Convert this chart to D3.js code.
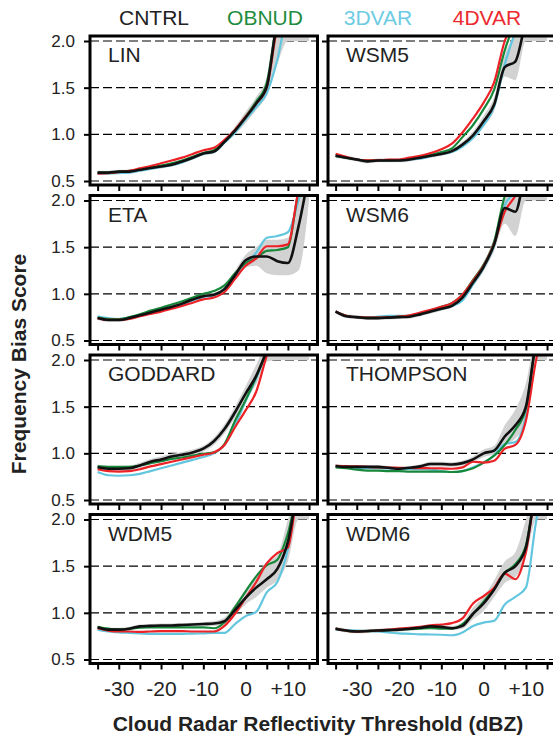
<!DOCTYPE html>
<html>
<head>
<meta charset="utf-8">
<script src="https://cdn.jsdelivr.net/npm/d3@7"></script>
<style>
  body { margin: 0; background: #fff; }
  text { font-family: "Liberation Sans", Arial, Helvetica, sans-serif; fill: #222; }
</style>
</head>
<body>
<div id="chart"></div>
<script>
var svgWidth = 553;
var svgHeight = 740;

// reflectivity thresholds (dBZ)
var thresholds = [-35, -32.5, -30, -27.5, -25, -22.5, -20, -17.5, -15, -12.5, -10, -7.5, -5, -2.5, 0, 2.5, 5, 7.5, 10, 12.5, 15];
var schemes = ["LIN", "WSM5", "ETA", "WSM6", "GODDARD", "THOMPSON", "WDM5", "WDM6"];
var experiments = ["CNTRL", "OBNUD", "3DVAR", "4DVAR"];
var xTickValues = [-35, -30, -25, -20, -15, -10, -5, 0, 5, 10, 15];
var xTickLabels = {"-30": "-30", "-20": "-20", "-10": "-10", "0": "0", "10": "+10"};
var yTickValues = [0.5, 1.0, 1.5, 2.0];

// LIN
var linCntrl = [.59,.59,.60,.60,.62,.64,.655,.675,.71,.75,.795,.815,.92,1.04,1.18,1.33,1.51,2.2,2.4,2.4,2.4];
var linObnud = [.59,.59,.60,.61,.625,.645,.665,.69,.72,.76,.80,.83,.92,1.04,1.19,1.35,1.55,2.2,2.4,2.4,2.4];
var lin3dvar = [.58,.58,.585,.59,.61,.63,.65,.67,.70,.745,.79,.81,.91,1.02,1.16,1.29,1.44,1.8,2.3,2.4,2.4];
var lin4dvar = [.58,.585,.595,.61,.635,.66,.69,.72,.75,.79,.83,.855,.94,1.05,1.19,1.33,1.50,2.15,2.4,2.4,2.4];
var linLo = [.57,.57,.58,.58,.60,.62,.635,.655,.69,.73,.775,.795,.90,1.0,1.12,1.26,1.42,1.75,2.0,2.0,2.0];
var linHi = [.61,.61,.62,.62,.64,.66,.675,.695,.73,.77,.815,.835,.94,1.08,1.24,1.40,1.62,2.3,2.4,2.4,2.4];

// WSM5
var wsm5Cntrl = [.77,.75,.73,.71,.72,.72,.72,.73,.75,.77,.79,.82,.89,.99,1.14,1.32,1.72,1.78,2.2,2.4,2.4];
var wsm5Obnud = [.77,.75,.73,.72,.72,.72,.725,.74,.76,.78,.81,.85,.97,1.1,1.27,1.48,1.9,2.2,2.4,2.4,2.4];
var wsm53dvar = [.77,.75,.73,.71,.72,.72,.72,.73,.74,.765,.79,.81,.87,.96,1.1,1.30,1.75,2.1,2.4,2.4,2.4];
var wsm54dvar = [.79,.76,.73,.72,.72,.73,.73,.75,.77,.80,.84,.90,1.02,1.17,1.34,1.56,2.0,2.2,2.4,2.4,2.4];
var wsm5Lo = [.75,.73,.71,.69,.70,.70,.70,.71,.73,.75,.77,.80,.86,.95,1.08,1.25,1.62,1.58,2.0,2.0,2.0];
var wsm5Hi = [.79,.77,.75,.73,.74,.74,.74,.75,.77,.79,.81,.84,.92,1.03,1.2,1.4,1.85,2.1,2.4,2.4,2.4];

// ETA
var etaCntrl = [.74,.72,.72,.74,.77,.80,.83,.86,.895,.94,.975,.99,1.05,1.2,1.36,1.40,1.40,1.35,1.33,1.72,2.3];
var etaObnud = [.745,.73,.73,.75,.78,.82,.85,.885,.92,.96,1.0,1.03,1.09,1.22,1.33,1.38,1.46,1.47,1.50,2.1,2.4];
var eta3dvar = [.76,.74,.73,.745,.775,.80,.83,.86,.89,.93,.965,.985,1.05,1.18,1.32,1.44,1.60,1.62,1.66,2.0,2.4];
var eta4dvar = [.74,.72,.72,.73,.76,.785,.81,.84,.87,.905,.94,.96,1.02,1.16,1.30,1.38,1.51,1.51,1.53,2.1,2.4];
var etaLo = [.72,.70,.70,.72,.75,.78,.81,.84,.875,.92,.955,.97,1.02,1.15,1.28,1.30,1.22,1.20,1.20,1.25,2.0];
var etaHi = [.76,.74,.74,.76,.79,.82,.85,.88,.915,.96,.995,1.01,1.08,1.25,1.42,1.50,1.58,1.58,1.60,2.1,2.4];

// WSM6
var wsm6Cntrl = [.81,.76,.75,.74,.74,.745,.75,.755,.78,.81,.84,.87,.96,1.12,1.29,1.53,1.92,1.88,2.3,2.4,2.4];
var wsm6Obnud = [.81,.765,.75,.745,.745,.75,.755,.765,.79,.82,.86,.90,.99,1.15,1.31,1.56,2.05,2.3,2.4,2.4,2.4];
var wsm63dvar = [.81,.765,.75,.745,.755,.765,.765,.765,.785,.81,.84,.87,.93,1.10,1.28,1.52,1.95,2.1,2.4,2.4,2.4];
var wsm64dvar = [.81,.765,.75,.745,.745,.75,.755,.77,.80,.83,.86,.90,.99,1.14,1.30,1.54,1.88,2.05,2.3,2.4,2.4];
var wsm6Lo = [.79,.74,.73,.72,.72,.725,.73,.735,.76,.79,.82,.85,.93,1.08,1.24,1.46,1.75,1.62,2.0,2.0,2.0];
var wsm6Hi = [.83,.78,.77,.76,.76,.765,.77,.775,.80,.83,.86,.89,.99,1.16,1.34,1.60,2.05,2.1,2.4,2.4,2.4];

// GODDARD
var godCntrl = [.85,.835,.835,.84,.87,.91,.935,.965,.985,1.01,1.05,1.13,1.26,1.44,1.64,1.83,2.1,2.4,2.4,2.4,2.4];
var godObnud = [.86,.855,.855,.855,.87,.895,.915,.94,.955,.975,.995,1.01,1.10,1.35,1.57,1.82,2.1,2.4,2.4,2.4,2.4];
var god3dvar = [.80,.765,.76,.765,.78,.81,.84,.87,.90,.93,.96,1.0,1.09,1.30,1.56,1.80,2.1,2.4,2.4,2.4,2.4];
var god4dvar = [.83,.81,.805,.81,.83,.86,.885,.91,.935,.96,.985,1.01,1.09,1.28,1.46,1.66,2.05,2.4,2.4,2.4,2.4];
var godLo = [.82,.805,.805,.81,.84,.88,.905,.935,.955,.98,1.02,1.09,1.21,1.38,1.57,1.74,1.98,2.0,2.0,2.0,2.0];
var godHi = [.88,.865,.865,.87,.90,.94,.965,.995,1.015,1.04,1.08,1.17,1.31,1.50,1.72,1.95,2.2,2.4,2.4,2.4,2.4];

// THOMPSON
var thoCntrl = [.865,.855,.855,.855,.855,.845,.835,.845,.86,.885,.885,.88,.895,.935,1.0,1.03,1.18,1.30,1.50,2.2,2.4];
var thoObnud = [.85,.84,.825,.815,.815,.81,.81,.805,.805,.805,.805,.80,.81,.84,.90,.975,1.09,1.25,1.48,2.2,2.4];
var tho3dvar = [.855,.85,.845,.842,.84,.838,.835,.832,.83,.825,.81,.80,.81,.85,.90,.98,1.10,1.12,1.40,2.2,2.4];
var tho4dvar = [.865,.862,.86,.855,.85,.848,.845,.843,.842,.84,.838,.835,.85,.91,.90,.92,1.05,1.09,1.35,2.02,2.4];
var thoLo = [.845,.835,.835,.835,.835,.825,.815,.825,.84,.86,.86,.855,.87,.905,.96,.99,1.08,1.16,1.32,2.0,2.0];
var thoHi = [.885,.875,.875,.875,.875,.865,.855,.865,.88,.91,.91,.905,.92,.965,1.04,1.08,1.30,1.47,1.75,2.3,2.4];

// WDM5
var wdm5Cntrl = [.845,.82,.82,.83,.855,.86,.865,.865,.87,.875,.88,.885,.91,1.03,1.16,1.27,1.36,1.47,1.76,2.3,2.4];
var wdm5Obnud = [.85,.83,.82,.83,.84,.845,.845,.845,.845,.845,.845,.835,.90,1.06,1.23,1.39,1.51,1.57,1.85,2.3,2.4];
var wdm53dvar = [.82,.80,.79,.785,.78,.775,.775,.775,.775,.778,.78,.785,.785,.88,.965,1.01,1.22,1.33,1.68,2.3,2.4];
var wdm54dvar = [.835,.81,.80,.80,.795,.80,.805,.805,.805,.80,.80,.80,.86,.99,1.16,1.33,1.53,1.64,1.70,2.3,2.4];
var wdm5Lo = [.825,.80,.80,.81,.835,.84,.845,.845,.85,.855,.86,.86,.88,.98,1.09,1.17,1.27,1.35,1.55,2.0,2.0];
var wdm5Hi = [.865,.84,.84,.85,.875,.88,.885,.885,.89,.895,.90,.91,.95,1.09,1.25,1.40,1.55,1.62,2.0,2.4,2.4];

// WDM6
var wdm6Cntrl = [.83,.81,.80,.805,.81,.815,.82,.83,.84,.855,.85,.835,.86,.99,1.10,1.25,1.43,1.50,1.70,2.3,2.4];
var wdm6Obnud = [.83,.81,.80,.805,.81,.815,.82,.825,.83,.835,.83,.83,.88,.99,1.12,1.26,1.43,1.52,1.72,2.3,2.4];
var wdm63dvar = [.82,.815,.81,.805,.80,.79,.78,.775,.77,.768,.765,.76,.79,.86,.895,.915,1.09,1.17,1.27,2.0,2.4];
var wdm64dvar = [.83,.81,.80,.805,.81,.82,.83,.84,.85,.865,.875,.89,.94,1.10,1.18,1.27,1.42,1.36,1.65,2.3,2.4];
var wdm6Lo = [.81,.79,.78,.785,.79,.795,.80,.81,.82,.835,.83,.815,.83,.93,1.02,1.17,1.32,1.38,1.60,2.0,2.0];
var wdm6Hi = [.85,.83,.82,.825,.83,.835,.84,.85,.86,.875,.87,.86,.90,1.06,1.17,1.35,1.55,1.65,2.0,2.4,2.4];

var colors = {"CNTRL": "#111111", "OBNUD": "#17873a", "3DVAR": "#62c6df", "4DVAR": "#ec2227"};
var legendColors = {"CNTRL": "#222222", "OBNUD": "#1e8c3e", "3DVAR": "#6dcbe3", "4DVAR": "#ec2a2f"};

var panelData = [
  {CNTRL: linCntrl, OBNUD: linObnud, "3DVAR": lin3dvar, "4DVAR": lin4dvar, lo: linLo, hi: linHi},
  {CNTRL: wsm5Cntrl, OBNUD: wsm5Obnud, "3DVAR": wsm53dvar, "4DVAR": wsm54dvar, lo: wsm5Lo, hi: wsm5Hi},
  {CNTRL: etaCntrl, OBNUD: etaObnud, "3DVAR": eta3dvar, "4DVAR": eta4dvar, lo: etaLo, hi: etaHi},
  {CNTRL: wsm6Cntrl, OBNUD: wsm6Obnud, "3DVAR": wsm63dvar, "4DVAR": wsm64dvar, lo: wsm6Lo, hi: wsm6Hi},
  {CNTRL: godCntrl, OBNUD: godObnud, "3DVAR": god3dvar, "4DVAR": god4dvar, lo: godLo, hi: godHi},
  {CNTRL: thoCntrl, OBNUD: thoObnud, "3DVAR": tho3dvar, "4DVAR": tho4dvar, lo: thoLo, hi: thoHi},
  {CNTRL: wdm5Cntrl, OBNUD: wdm5Obnud, "3DVAR": wdm53dvar, "4DVAR": wdm54dvar, lo: wdm5Lo, hi: wdm5Hi},
  {CNTRL: wdm6Cntrl, OBNUD: wdm6Obnud, "3DVAR": wdm63dvar, "4DVAR": wdm64dvar, lo: wdm6Lo, hi: wdm6Hi}
];

// panel layout
var colX = [90, 328];
var rowTop = 36;
var rowStep = 159.5;
var panelW = 227.5;
var panelH = 149;

var svg = d3.select("#chart")
  .append("svg")
  .attr("width", svgWidth)
  .attr("height", svgHeight);

var x = d3.scaleLinear().domain([-36.8, 17]).range([0, panelW]);
var y = d3.scaleLinear().domain([0.5, 2.0]).range([panelH - 4, 5]);

// draw order: CNTRL on top
var drawOrder = ["3DVAR", "OBNUD", "4DVAR", "CNTRL"];

schemes.forEach(function(name, i) {
  var col = i % 2, row = Math.floor(i / 2);
  var d = panelData[i];
  var g = svg.append("g")
    .attr("transform", `translate(${colX[col]}, ${rowTop + row * rowStep})`);

  g.append("clipPath").attr("id", "clip" + i)
    .append("rect").attr("x", 0).attr("y", 0).attr("width", panelW).attr("height", panelH);

  // dashed reference lines
  g.selectAll("line.grid")
    .data(yTickValues)
    .enter()
    .append("line")
    .attr("class", "grid")
    .attr("x1", 0).attr("x2", panelW)
    .attr("y1", v => y(v)).attr("y2", v => y(v))
    .attr("stroke", "#000")
    .attr("stroke-width", 1.2)
    .attr("stroke-dasharray", "9,4");

  var plot = g.append("g").attr("clip-path", `url(#clip${i})`);

  // CNTRL spread
  var area = d3.area()
    .curve(d3.curveMonotoneX)
    .x((v, k) => x(thresholds[k]))
    .y0((v, k) => y(d.lo[k]))
    .y1((v, k) => y(d.hi[k]));
  plot.append("path")
    .datum(d.lo)
    .attr("d", area)
    .attr("fill", "#d2d2d2");

  var line = d3.line()
    .curve(d3.curveMonotoneX)
    .x((v, k) => x(thresholds[k]))
    .y(v => y(v));

  drawOrder.forEach(function(exp) {
    plot.append("path")
      .datum(d[exp])
      .attr("d", line)
      .attr("fill", "none")
      .attr("stroke", colors[exp])
      .attr("stroke-width", exp === "CNTRL" ? 2.6 : 2.2)
      .attr("stroke-linejoin", "round");
  });

  // axes
  var leftAxis = d3.axisLeft(y)
    .tickValues(yTickValues)
    .tickSize(6)
    .tickPadding(9)
    .tickFormat(col === 0 ? d3.format(".1f") : "");
  var yAxis = g.append("g").call(leftAxis);

  var bottomAxis = d3.axisBottom(x)
    .tickValues(xTickValues)
    .tickSize(6)
    .tickPadding(12)
    .tickFormat(v => (row === 3 && xTickLabels[v] !== undefined) ? xTickLabels[v] : "");
  var xAxis = g.append("g")
    .attr("transform", `translate(0, ${panelH})`)
    .call(bottomAxis);

  [yAxis, xAxis].forEach(function(ax) {
    ax.select(".domain").remove();
    ax.selectAll(".tick line").attr("stroke", "#000").attr("stroke-width", 2);
    ax.selectAll(".tick text")
      .style("font-family", "'Liberation Sans', Arial, sans-serif")
      .attr("fill", "#222");
  });
  yAxis.selectAll(".tick text").style("font-size", "17px");
  xAxis.selectAll(".tick text").style("font-size", "21px");

  // frame
  g.append("rect")
    .attr("x", 0).attr("y", 0)
    .attr("width", panelW).attr("height", panelH)
    .attr("fill", "none")
    .attr("stroke", "#000")
    .attr("stroke-width", 3);

  g.append("text")
    .attr("x", 18)
    .attr("y", 26)
    .style("font-size", "21px")
    .text(name);
});

// legend
var legendX = [154, 265, 378, 487];
svg.selectAll("text.legend")
  .data(experiments)
  .enter()
  .append("text")
  .attr("class", "legend")
  .attr("x", (v, k) => legendX[k])
  .attr("y", 25)
  .attr("text-anchor", "middle")
  .style("font-size", "21px")
  .style("fill", v => legendColors[v])
  .text(v => v);

// axis titles
svg.append("text")
  .attr("transform", "translate(26, 364) rotate(-90)")
  .attr("text-anchor", "middle")
  .style("font-size", "21px")
  .style("font-weight", "bold")
  .text("Frequency Bias Score");

svg.append("text")
  .attr("x", 318)
  .attr("y", 731)
  .attr("text-anchor", "middle")
  .style("font-size", "21px")
  .style("font-weight", "bold")
  .text("Cloud Radar Reflectivity Threshold (dBZ)");
</script>
</body>
</html>
